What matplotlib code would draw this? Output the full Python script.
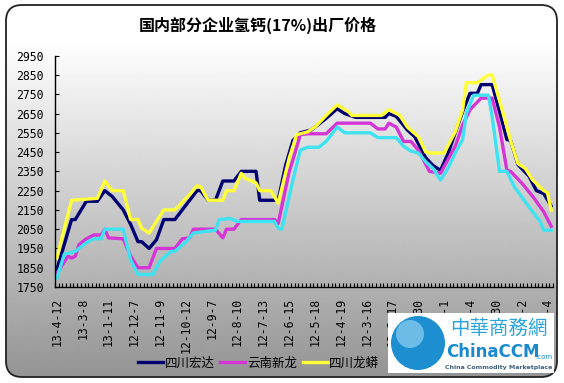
import numpy as np
import matplotlib
matplotlib.use('Agg')
import matplotlib.pyplot as plt
from matplotlib.patches import FancyBboxPatch, Rectangle, Circle

# chart data (price, yuan/ton)
title = '国内部分企业氢钙(17%)出厂价格'
n_points = 135
label_step = 7
date_labels = ['13-4-12', '13-3-8', '13-1-11', '12-12-7', '12-11-9', '12-10-12',
               '12-9-7', '12-8-10', '12-7-13', '12-6-15', '12-5-18', '12-4-19',
               '12-3-16', '12-2-17', '11-12-30', '11-12-1', '11-11-4', '11-9-30',
               '11-9-2', '11-8-4']
y_ticks = list(range(1750, 2951, 100))

names = ['四川宏达', '云南新龙', '四川龙蟒']
colors = ['#000070', '#d535d5', '#ffff3a', '#3ee2f0']

# (category index, price) where each line changes direction
hongda_idx = [0, 4, 5, 8, 11, 13, 15, 18, 20, 22, 23, 25, 27, 29, 32, 36, 38, 39, 41, 43,
              45, 48, 50, 54, 55, 60, 62, 64, 66, 69, 73, 76, 78, 81, 89, 90, 92, 95, 97,
              100, 102, 104, 106, 108, 110, 112, 114, 115, 118, 120, 122, 123, 125, 128,
              130, 132, 134]
hongda_val = [1840, 2100, 2100, 2195, 2195, 2250, 2220, 2150, 2075, 1985, 1985, 1950, 1995,
              2100, 2100, 2200, 2250, 2250, 2200, 2200, 2300, 2300, 2350, 2350, 2200, 2200,
              2380, 2510, 2550, 2565, 2625, 2675, 2650, 2630, 2630, 2650, 2635, 2565, 2530,
              2420, 2380, 2355, 2440, 2550, 2660, 2755, 2755, 2800, 2800, 2660, 2515, 2510,
              2385, 2325, 2250, 2235, 2170]

xinlong_idx = [0, 3, 4, 5, 6, 8, 10, 12, 13, 14, 18, 20, 22, 25, 27, 32, 34, 36, 37, 43,
               45, 46, 48, 50, 59, 60, 63, 64, 66, 68, 73, 76, 85, 87, 89, 90, 92, 94, 96,
               98, 101, 104, 105, 108, 110, 112, 115, 118, 120, 122, 123, 126, 129, 132, 134]
xinlong_val = [1820, 1910, 1900, 1910, 1970, 2000, 2020, 2020, 2050, 2005, 2000, 1910, 1850,
               1850, 1950, 1950, 2000, 2005, 2050, 2050, 2005, 2050, 2050, 2100, 2100, 2080,
               2350, 2410, 2540, 2545, 2545, 2600, 2600, 2570, 2570, 2600, 2580, 2505, 2505,
               2460, 2350, 2340, 2375, 2480, 2590, 2670, 2730, 2730, 2580, 2355, 2350, 2290,
               2220, 2140, 2065]

longmang_idx = [0, 4, 11, 13, 15, 18, 20, 22, 23, 25, 27, 29, 32, 36, 38, 39, 41, 45, 46, 48,
                50, 51, 54, 55, 58, 60, 63, 65, 68, 70, 73, 76, 79, 80, 88, 90, 93, 95, 98,
                100, 101, 105, 108, 110, 111, 114, 117, 118, 121, 123, 125, 127, 129, 132,
                133, 134]
longmang_val = [1900, 2200, 2210, 2300, 2250, 2250, 2100, 2100, 2055, 2030, 2090, 2150, 2150,
                2230, 2275, 2270, 2200, 2200, 2250, 2250, 2340, 2315, 2290, 2250, 2250, 2185,
                2420, 2540, 2555, 2580, 2640, 2695, 2660, 2640, 2640, 2670, 2640, 2580, 2530,
                2450, 2445, 2445, 2555, 2670, 2810, 2810, 2850, 2850, 2650, 2510, 2390, 2365,
                2305, 2250, 2240, 2150]

fourth_idx = [0, 2, 5, 8, 10, 12, 13, 18, 20, 22, 26, 28, 31, 32, 35, 37, 43, 44, 47, 49, 59,
              60, 61, 64, 66, 68, 71, 73, 76, 78, 85, 87, 92, 94, 96, 98, 100, 102, 104, 106,
              108, 110, 111, 113, 117, 118, 120, 122, 124, 128, 131, 132, 134]
fourth_val = [1795, 1920, 1935, 1980, 2000, 2000, 2050, 2050, 1890, 1815, 1815, 1885, 1935,
              1935, 1985, 2030, 2045, 2100, 2105, 2090, 2090, 2055, 2050, 2305, 2460, 2475,
              2475, 2505, 2580, 2550, 2550, 2525, 2525, 2480, 2455, 2445, 2400, 2365, 2305,
              2365, 2445, 2515, 2650, 2745, 2745, 2635, 2350, 2350, 2270, 2165, 2090, 2045,
              2045]

W, H = 564, 383
cjk = ['Noto Sans CJK SC', 'DejaVu Sans']

fig = plt.figure(figsize=(W / 100, H / 100), dpi=100)

# background: grey gradient inside a rounded frame
bg = fig.add_axes([0, 0, 1, 1])
bg.set_xlim(0, W)
bg.set_ylim(H, 0)
bg.axis('off')
rows = np.arange(H)
shade = np.clip(1.0 - (rows - 40) / (377 - 40) * 0.42, 0.58, 1.0)
grad = np.repeat(shade[:, None], 2, axis=1)
frame = FancyBboxPatch((6, 5), 551, 372, boxstyle='round,pad=0,rounding_size=16',
                       facecolor='none', edgecolor='#222222', lw=1.3, zorder=3)
bg.add_patch(frame)
im = bg.imshow(grad, cmap='gray', vmin=0, vmax=1, extent=(0, W, H, 0), aspect='auto',
               interpolation='bilinear', zorder=1)
im.set_clip_path(frame)

fig.text(258 / W, 1 - 25 / H, title, ha='center', va='center', fontsize=11.5,
         fontweight='bold', family=cjk)

ax = fig.add_axes([55 / W, 1 - 287 / H, (553 - 55) / W, (287 - 55.7) / H])
ax.patch.set_visible(False)
ax.set_zorder(2)

series = [(hongda_idx, hongda_val), (xinlong_idx, xinlong_val),
          (longmang_idx, longmang_val), (fourth_idx, fourth_val)]
for k, (xi, yv) in enumerate(series):
    lab = names[k] if k < len(names) else '_nolegend_'
    ax.plot(xi, yv, color=colors[k], lw=2.4, label=lab, solid_joinstyle='round')

ax.set_xlim(-0.5, n_points - 0.5)
ax.set_ylim(y_ticks[0], y_ticks[-1])
ax.set_yticks(y_ticks)
ax.set_xticks(range(0, n_points, label_step))
ax.set_xticklabels(date_labels, rotation=90, family='DejaVu Sans Mono', fontsize=8.3)
ax.set_xticks(np.arange(-0.5, n_points, 1), minor=True)
ax.tick_params(axis='x', which='major', length=0, pad=8)
ax.tick_params(axis='x', which='minor', direction='in', length=3, width=0.8)
ax.tick_params(axis='y', direction='in', length=3, width=0.8, pad=8)
for t in ax.get_yticklabels():
    t.set_family('DejaVu Sans Mono')
    t.set_fontsize(8.3)
for s in ['top', 'right']:
    ax.spines[s].set_visible(False)
for s in ['left', 'bottom']:
    ax.spines[s].set_linewidth(1.0)

leg = ax.legend(loc='center left', bbox_to_anchor=(127 / W, 1 - 363 / H),
                bbox_transform=fig.transFigure, ncol=3, frameon=False,
                prop={'family': cjk, 'size': 9}, handlelength=2.0,
                handletextpad=0.12, columnspacing=0.45)
for h in leg.get_lines():
    h.set_linewidth(2.4)

# site logo in the lower right corner
logo = fig.add_axes([0, 0, 1, 1], zorder=5)
logo.set_xlim(0, W)
logo.set_ylim(H, 0)
logo.axis('off')
logo.add_patch(Rectangle((388, 313), 166, 60, facecolor='white', edgecolor='none'))
logo.add_patch(Circle((418, 343), 27, facecolor='#1d8fd0', edgecolor='none'))
logo.add_patch(Circle((410, 334), 14, facecolor='#8fd0f2', edgecolor='none', alpha=0.7))
logo.text(499, 328, '中華商務網', ha='center', va='center', fontsize=14, color='#2aa3dc',
          family=['Noto Sans CJK TC', 'DejaVu Sans'])
logo.text(446, 352, 'ChinaCCM', ha='left', va='center', fontsize=12, fontweight='bold',
          color='#1a8ad0', family='DejaVu Sans Condensed')
logo.text(535, 357, '.com', ha='left', va='center', fontsize=5, color='#1a8ad0')
logo.text(499, 367, 'China Commodity Marketplace', ha='center', va='center', fontsize=4.5,
          color='#40607a', fontweight='bold')

fig.savefig('out.png', dpi=100)
